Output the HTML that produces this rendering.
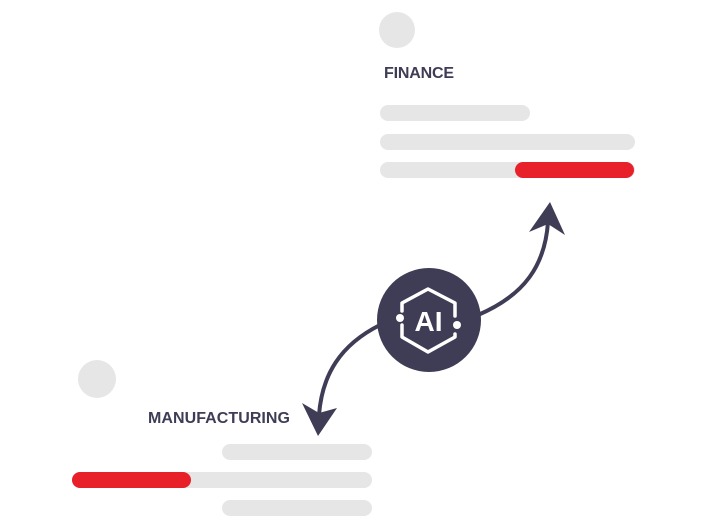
<!DOCTYPE html>
<html><head><style>
html,body{margin:0;padding:0;background:#fff;width:712px;height:525px;overflow:hidden}
svg{display:block}
text{font-family:"Liberation Sans",sans-serif;font-weight:bold;fill:#3f3d56}
</style></head><body>
<svg width="712" height="525" viewBox="0 0 712 525">
<circle cx="397" cy="30" r="18" fill="#e6e6e6"/>
<text x="384" y="78" font-size="16" textLength="70">FINANCE</text>
<rect x="380" y="105" width="150" height="16" rx="8" fill="#e6e6e6"/>
<rect x="380" y="134" width="255" height="16" rx="8" fill="#e6e6e6"/>
<rect x="380" y="162" width="255" height="16" rx="8" fill="#e6e6e6"/>
<rect x="515" y="162" width="119" height="16" rx="8" fill="#e8202a"/>

<circle cx="97" cy="379" r="19" fill="#e6e6e6"/>
<text x="148" y="423" font-size="16" textLength="142">MANUFACTURING</text>
<rect x="222" y="444" width="150" height="16" rx="8" fill="#e6e6e6"/>
<rect x="72" y="472" width="300" height="16" rx="8" fill="#e6e6e6"/>
<rect x="72" y="472" width="119" height="16" rx="8" fill="#e8202a"/>
<rect x="222" y="500" width="150" height="16" rx="8" fill="#e6e6e6"/>

<path d="M478 315 C525 295 545 265 548 222" fill="none" stroke="#3f3d56" stroke-width="4"/>
<path d="M550 202 L565 235 L548 224 L529 232 Z" fill="#3f3d56"/>
<path d="M380 325 C340 345 322 375 319 415" fill="none" stroke="#3f3d56" stroke-width="4"/>
<path d="M318 436 L302 403 L319 413 L337 408 Z" fill="#3f3d56"/>

<circle cx="429" cy="320" r="52" fill="#3f3d56"/>
<g fill="none" stroke="#fff" stroke-width="3.5" stroke-linecap="round" stroke-linejoin="round">
<path d="M402 311 L402 303 L428 289 L455 303 L455 316"/>
<path d="M455 334 L455 337 L428 352 L402 337 L402 325"/>
</g>
<circle cx="400" cy="318" r="4" fill="#fff"/>
<circle cx="457" cy="325" r="4" fill="#fff"/>
<text x="428.5" y="331" font-size="28" text-anchor="middle" style="fill:#fff">AI</text>
</svg>
</body></html>
